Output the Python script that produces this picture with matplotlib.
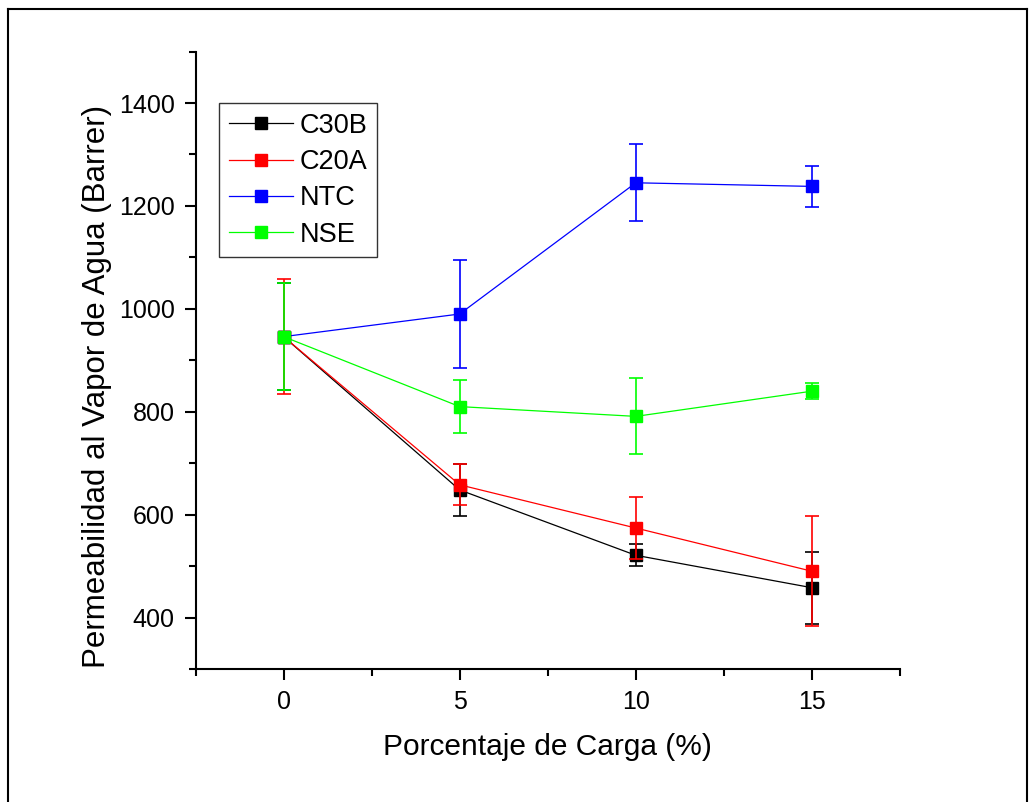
import matplotlib
matplotlib.use("Agg")
import matplotlib.pyplot as plt
from matplotlib.lines import Line2D
from matplotlib.ticker import MultipleLocator

plt.rcParams['font.family'] = ['Liberation Sans', 'DejaVu Sans']

carga = [0, 5, 10, 15]
series_names = ["C30B", "C20A", "NTC", "NSE"]
c30b = [946, 648, 521, 458]
c30b_err = [104, 50, 21, 70]
c20a = [946, 658, 574, 490]
c20a_err = [112, 40, 60, 107]
ntc = [946, 990, 1245, 1238]
ntc_err = [104, 104, 75, 40]
nse = [946, 810, 791, 840]
nse_err = [104, 51, 74, 16]
colors = ["#000000", "#FF0000", "#0000FF", "#00FF00"]

W, H = 1036, 802
fig = plt.figure(figsize=(W / 100, H / 100), dpi=100)
ax = fig.add_axes([195.5 / W, 1 - 669 / H, (900 - 195.5) / W, (669 - 51.6) / H])

data = [(c30b, c30b_err), (c20a, c20a_err), (ntc, ntc_err), (nse, nse_err)]
zorders = [3, 4, 2, 5]
for (vals, errs), name, col, z in zip(data, series_names, colors, zorders):
    ax.errorbar(carga, vals, yerr=errs, color=col, lw=0.9, marker='s', ms=9,
                mec=col, mfc=col, capsize=5, capthick=1.2, elinewidth=1.2,
                label=name, zorder=z)

ax.set_xlim(-2.5, 17.5)
ax.set_ylim(300, 1500)
ax.xaxis.set_major_locator(MultipleLocator(5))
ax.xaxis.set_minor_locator(MultipleLocator(2.5))
ax.yaxis.set_major_locator(MultipleLocator(200))
ax.yaxis.set_minor_locator(MultipleLocator(100))
ax.set_yticks([400, 600, 800, 1000, 1200, 1400])
for s in ['top', 'right']:
    ax.spines[s].set_visible(False)
for s in ['left', 'bottom']:
    ax.spines[s].set_linewidth(1.5)
ax.tick_params(which='major', direction='out', length=8, width=1.5, labelsize=18, pad=7)
ax.tick_params(which='minor', direction='out', length=5, width=1.5)

ax.set_xlabel("Porcentaje de Carga (%)", fontsize=21.5, labelpad=14)
ax.set_ylabel("Permeabilidad al Vapor de Agua (Barrer)", fontsize=22.5)
ax.yaxis.set_label_coords((112 - 195.5) / 704.5, (669 - 386) / 617.4)

handles = [Line2D([0], [0], color=c, lw=0.9, marker='s', ms=9, mfc=c, mec=c) for c in colors]
leg = ax.legend(handles, series_names, loc='upper left', bbox_to_anchor=((219 - 195.5) / (900 - 195.5), (669 - 103) / (669 - 51.6)),
                fontsize=19.5, frameon=True, fancybox=False, edgecolor='black',
                handlelength=2.36, handletextpad=0.25, borderpad=0.36, labelspacing=0.38,
                borderaxespad=0)
leg.get_frame().set_linewidth(1.0)

# outer frame
fl = dict(color='black', lw=1.5, transform=fig.transFigure)
fig.add_artist(Line2D([8 / W, 8 / W], [0, 1 - 9 / H], **fl))
fig.add_artist(Line2D([8 / W, 1027 / W], [1 - 9 / H, 1 - 9 / H], **fl))
fig.add_artist(Line2D([1027 / W, 1027 / W], [1 - 9 / H, 0], **fl))

fig.savefig("out.png", dpi=100)
